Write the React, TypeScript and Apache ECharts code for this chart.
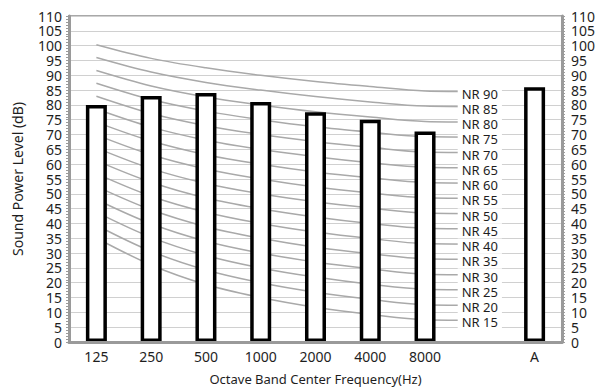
import React, { useEffect, useRef } from "react";
import * as echarts from "echarts";

const categories = ["125", "250", "500", "1000", "2000", "4000", "8000", "", "A"];
const soundPower = [80, 83, 84, 81, 77.5, 75, 71, null, 86];

// NR curves: values at 125..8000 Hz, plus label anchor (index 7)
const NR90 = [100.3, 95.7, 92.5, 90, 87.9, 86.2, 84.7, 84.5];
const NR85 = [96.0, 91.1, 87.6, 85, 82.8, 81.0, 79.6, 79.4];
const NR80 = [91.6, 86.4, 82.7, 80, 77.7, 75.9, 74.4, 74.2];
const NR75 = [87.3, 81.8, 77.9, 75, 72.6, 70.8, 69.3, 69.1];
const NR70 = [82.9, 77.1, 73.0, 70, 67.6, 65.7, 64.1, 63.9];
const NR65 = [78.6, 72.5, 68.1, 65, 62.5, 60.5, 59.0, 58.8];
const NR60 = [74.2, 67.8, 63.2, 60, 57.4, 55.4, 53.8, 53.6];
const NR55 = [69.9, 63.2, 58.4, 55, 52.3, 50.3, 48.7, 48.5];
const NR50 = [65.5, 58.5, 53.5, 50, 47.3, 45.2, 43.5, 43.3];
const NR45 = [61.2, 53.9, 48.6, 45, 42.2, 40.0, 38.4, 38.2];
const NR40 = [56.8, 49.2, 43.8, 40, 37.1, 34.9, 33.2, 33.0];
const NR35 = [52.5, 44.6, 38.9, 35, 32.0, 29.8, 28.1, 27.9];
const NR30 = [48.1, 39.9, 34.0, 30, 27.0, 24.7, 22.9, 22.7];
const NR25 = [43.8, 35.3, 29.2, 25, 21.9, 19.5, 17.8, 17.6];
const NR20 = [39.4, 30.6, 24.3, 20, 16.8, 14.4, 12.6, 12.4];
const NR15 = [35.1, 26.0, 19.4, 15, 11.7, 9.3, 7.5, 7.3];

const nrNames = ["NR 90", "NR 85", "NR 80", "NR 75", "NR 70", "NR 65", "NR 60", "NR 55", "NR 50", "NR 45", "NR 40", "NR 35", "NR 30", "NR 25", "NR 20", "NR 15"];
const nrCurves = [NR90, NR85, NR80, NR75, NR70, NR65, NR60, NR55, NR50, NR45, NR40, NR35, NR30, NR25, NR20, NR15];

const yTicks = { min: 0, max: 110, interval: 5 };

const FONT = "Noto Sans";
const TXT = "#1e1e1e";
const AXIS = "#9a9a9a";

export default function App() {
  const ref = useRef<HTMLDivElement>(null);
  useEffect(() => {
    if (!ref.current) return;
    const chart = echarts.init(ref.current, null, { renderer: "svg" });

    const nrSeries = nrCurves.map((vals, i) => ({
      type: "line",
      name: nrNames[i],
      z: 2,
      smooth: 0.35,
      symbol: "circle",
      symbolSize: 0,
      showSymbol: true,
      silent: true,
      lineStyle: { color: "#a9a9a9", width: 1.5 },
      itemStyle: { color: "#a9a9a9" },
      data: vals.map((v, j) =>
        j === 7
          ? {
              value: v,
              symbolSize: 0,
              label: {
                show: true,
                position: "inside",
                formatter: nrNames[i],
                offset: [0, 2],
                backgroundColor: "#fff",
                padding: [1, 4],
                fontFamily: FONT,
                fontSize: 13,
                lineHeight: 13,
                color: TXT,
              },
            }
          : { value: v, symbolSize: 0 }
      ),
    }));

    const yAxisBase = {
      type: "value",
      min: yTicks.min,
      max: yTicks.max,
      interval: yTicks.interval,
      axisLine: { show: true, lineStyle: { color: AXIS, width: 3 } },
      axisTick: { show: true, length: 3, lineStyle: { color: AXIS } },
      minorTick: { show: true, splitNumber: 5, length: 3, lineStyle: { color: AXIS } },
      axisLabel: { fontFamily: FONT, fontSize: 14, lineHeight: 14, color: TXT },
    };

    chart.setOption({
      animation: false,
      grid: {
        left: 69,
        right: 34,
        top: 16,
        bottom: 47,
        show: true,
        borderColor: "#a8a8a8",
        borderWidth: 2,
        backgroundColor: "transparent",
      },
      xAxis: {
        type: "category",
        data: categories,
        z: 10,
        axisLine: { show: true, lineStyle: { color: AXIS, width: 3 } },
        axisTick: { show: false },
        axisLabel: { fontFamily: FONT, fontSize: 14, color: TXT, margin: 7, interval: 0 },
        name: "Octave Band Center Frequency(Hz)",
        nameLocation: "middle",
        nameGap: 30,
        nameTextStyle: { fontFamily: FONT, fontSize: 13, color: TXT },
      },
      yAxis: [
        {
          ...yAxisBase,
          position: "left",
          name: "Sound Power Level (dB)",
          nameLocation: "middle",
          nameGap: 45,
          nameTextStyle: { fontFamily: FONT, fontSize: 14, color: TXT },
          axisLabel: { ...yAxisBase.axisLabel, margin: 7 },
          splitLine: { show: true, lineStyle: { color: "#d0d0d0", width: 1 } },
        },
        {
          ...yAxisBase,
          position: "right",
          axisLabel: { ...yAxisBase.axisLabel, margin: 9 },
          splitLine: { show: false },
        },
      ],
      series: [
        ...nrSeries,
        {
          type: "bar",
          z: 3,
          barWidth: 21,
          silent: true,
          itemStyle: { color: "#fff", borderColor: "#000", borderWidth: 3.5 },
          data: soundPower.map((v) => (v === null ? "-" : v)),
        },
      ],
    });
    return () => chart.dispose();
  }, []);
  return <div ref={ref} style={{ width: 598, height: 390, position: "absolute", left: 0, top: 0 }} />;
}
